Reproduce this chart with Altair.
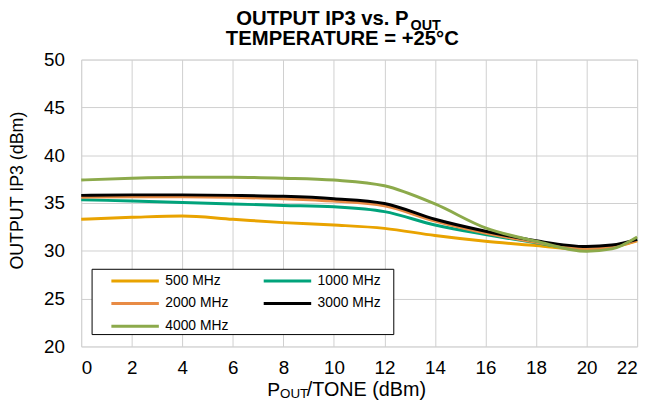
import altair as alt
import pandas as pd

# ---- data ----
pout = [0, 2, 4, 6, 8, 10, 12, 14, 16, 18, 20, 21, 22]
series_names = ["500 MHz", "1000 MHz", "2000 MHz", "3000 MHz", "4000 MHz"]
ip3_500 = [33.3, 33.5, 33.65, 33.3, 32.95, 32.7, 32.35, 31.6, 31.0, 30.55, 30.1, 30.35, 31.05]
ip3_1000 = [35.35, 35.2, 35.05, 34.9, 34.75, 34.6, 34.1, 32.7, 31.7, 30.85, 30.15, 30.4, 31.2]
ip3_2000 = [35.6, 35.65, 35.65, 35.6, 35.45, 35.2, 34.7, 33.1, 31.85, 30.9, 30.2, 30.4, 31.1]
ip3_3000 = [35.8, 35.85, 35.85, 35.8, 35.7, 35.45, 34.95, 33.3, 32.05, 31.05, 30.45, 30.6, 31.2]
ip3_4000 = [37.4, 37.6, 37.7, 37.7, 37.6, 37.4, 36.8, 34.9, 32.4, 31.0, 29.95, 30.2, 31.45]
colors = ["#E9A300", "#00A37B", "#E88B45", "#000000", "#8CAA4B"]

x_ticks = list(range(0, 23, 2))
y_ticks = list(range(20, 51, 5))

title_line1 = "OUTPUT IP3 vs. P"
title_sub = "OUT"
title_line2 = "TEMPERATURE = +25°C"
xtitle_p = "P"
xtitle_sub = "OUT"
xtitle_rest = "/TONE (dBm)"
ytitle = "OUTPUT IP3 (dBm)"

FONT = "Liberation Sans"

rows = []
for name, vals in zip(series_names, [ip3_500, ip3_1000, ip3_2000, ip3_3000, ip3_4000]):
    for i, (x, y) in enumerate(zip(pout, vals)):
        rows.append({"pout": x, "ip3": y, "freq": name, "order": i})
df = pd.DataFrame(rows)

lines = alt.Chart(df).mark_line(strokeWidth=3, interpolate="monotone").encode(
    x=alt.X("pout:Q", scale=alt.Scale(domain=[0, 22], nice=False),
            axis=alt.Axis(values=x_ticks, title=None, labelFontSize=19, labelFont=FONT,
                          labelColor="black", labelPadding=12, ticks=False, domain=False,
                          grid=True, gridColor="#cfcfcf", gridWidth=1)),
    y=alt.Y("ip3:Q", scale=alt.Scale(domain=[20, 50], nice=False),
            axis=alt.Axis(values=y_ticks, title=ytitle, labelFontSize=19, labelFont=FONT,
                          labelColor="black", labelPadding=17, ticks=False, domain=False,
                          grid=True, gridColor="#cfcfcf", gridWidth=1,
                          titleFont=FONT, titleFontSize=18, titleFontWeight="normal",
                          titleColor="black", titleX=-55, titleY=132)),
    color=alt.Color("freq:N", sort=series_names,
                    scale=alt.Scale(domain=series_names, range=colors),
                    legend=alt.Legend(orient="none", legendX=11, legendY=212, columns=2,
                                      direction="horizontal", title=None,
                                      symbolType="M-4,0H4", symbolSize=144,
                                      symbolStrokeWidth=3, labelFont=FONT, labelFontSize=14,
                                      labelColor="black", labelOffset=23, columnPadding=20,
                                      rowPadding=8, padding=4, symbolOffset=32)),
    order="order:Q",
)

# legend frame (white box with black border behind the legend entries)
frame = alt.Chart(pd.DataFrame({"k": [0]})).mark_rect(
    fill="white", stroke="black", strokeWidth=1
).encode(x=alt.value(11), x2=alt.value(316), y=alt.value(212), y2=alt.value(278))

def txt(s, x, y, size, weight="normal", align="left"):
    return alt.Chart(pd.DataFrame({"t": [s]})).mark_text(
        font=FONT, fontSize=size, fontWeight=weight, align=align, baseline="alphabetic",
        color="black"
    ).encode(text="t:N", x=alt.value(x), y=alt.value(y))

# positions relative to the plot area origin (page 82, 58)
texts = [
    txt(title_line1, 331, -35, 20.5, "bold", "right"),
    txt(title_sub, 333, -30, 14.5, "bold", "left"),
    txt(title_line2, 264, -15, 20.5, "bold", "center"),
    txt(xtitle_p, 188, 340, 19.5, "normal", "left"),
    txt(xtitle_sub, 201, 342, 13.5, "normal", "left"),
    txt(xtitle_rest, 228, 340, 20, "normal", "left"),
]

chart = alt.layer(lines, frame, *texts).properties(
    width=562, height=290,
    autosize=alt.AutoSizeParams(type="none"),
    padding={"left": 74, "top": 50, "right": 12, "bottom": 52},
).configure_view(stroke="#999999", strokeWidth=3).configure(background="white")

chart.save("out.html", embed_options={"renderer": "svg", "actions": False})
